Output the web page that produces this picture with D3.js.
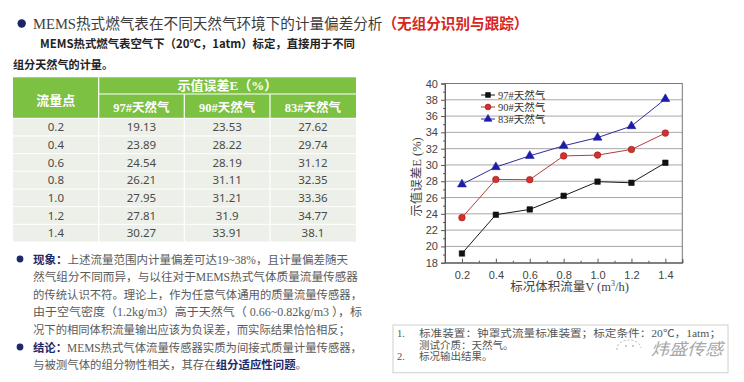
<!DOCTYPE html>
<html><head><meta charset="utf-8">
<script src="https://cdn.jsdelivr.net/npm/d3@7"></script>
<style>body{margin:0;background:#fff}svg{display:block}</style></head>
<body>
<svg id="c" width="744" height="382"></svg>
<script>
// ---------------- data ----------------
const flowPoints = [0.2, 0.4, 0.6, 0.8, 1.0, 1.2, 1.4];
const seriesNames = ["97#天然气", "90#天然气", "83#天然气"];
const gas97 = [19.13, 23.89, 24.54, 26.21, 27.95, 27.81, 30.27];
const gas90 = [23.53, 28.22, 28.19, 31.11, 31.21, 31.9, 33.91];
const gas83 = [27.62, 29.74, 31.12, 32.35, 33.36, 34.77, 38.1];
const yTicks = [18, 20, 22, 24, 26, 28, 30, 32, 34, 36, 38, 40];
const xTicks = [0.2, 0.4, 0.6, 0.8, 1.0, 1.2, 1.4];
const titleMain = "MEMS热式燃气表在不同天然气环境下的计量偏差分析";
const titleRed = "（无组分识别与跟踪）";
const subtitle1 = "MEMS热式燃气表空气下（20℃，1atm）标定，直接用于不同";
const subtitle2 = "组分天然气的计量。";
const tableHead = ["流量点", "示值误差E（%）"];
const yAxisTitle = "示值误差E (%)";
const noteLines = ["标准装置：钟罩式流量标准装置；标定条件：20℃，1atm；", "测试介质：天然气。", "标况输出结果。"];

const svg = d3.select("#c");
const serif = "'Liberation Serif','Noto Sans CJK SC',serif";
const cjk = "'Noto Sans CJK SC','Noto Sans',sans-serif";
const sans = "'Liberation Sans','Noto Sans CJK SC',sans-serif";

// ---------------- title ----------------
svg.append("circle").attr("cx", 21.7).attr("cy", 23.5).attr("r", 4.2).attr("fill", "#1b2466");
const tt = svg.append("text").attr("x", 33).attr("y", 29).attr("font-family", serif).attr("font-size", 14.6).attr("fill", "#3c3c3c");
tt.append("tspan").text(titleMain);
tt.append("tspan").attr("font-family", cjk).attr("font-weight", "bold").attr("fill", "#d7261e").text(titleRed);
svg.append("text").attr("x", 40).attr("y", 47.5).attr("font-family", cjk).attr("font-size", 11.5)
  .attr("font-weight", "bold").attr("fill", "#222").attr("textLength", 315).attr("lengthAdjust", "spacingAndGlyphs").text(subtitle1);
svg.append("text").attr("x", 13).attr("y", 69).attr("font-family", cjk).attr("font-size", 11.5)
  .attr("font-weight", "bold").attr("fill", "#222").attr("textLength", 100).attr("lengthAdjust", "spacingAndGlyphs").text(subtitle2);

// ---------------- table ----------------
const green = "#7cc142";
const colX = [13, 98.7, 184.3, 270, 356];
const tTop = 77.3, tMid = 94, tHead = 118.3, tBot = 242;
const rowY = d3.scaleBand().domain(d3.range(flowPoints.length)).range([tHead, tBot]);
const tg = svg.append("g");
tg.append("rect").attr("x", colX[0]).attr("y", tTop).attr("width", colX[4] - colX[0]).attr("height", tHead - tTop).attr("fill", green);
tg.append("rect").attr("x", colX[0]).attr("y", tHead).attr("width", colX[4] - colX[0]).attr("height", tBot - tHead).attr("fill", "#edf0e9");
tg.append("line").attr("x1", colX[1]).attr("x2", colX[1]).attr("y1", tTop).attr("y2", tBot).attr("stroke", "#fff").attr("stroke-width", 1.2);
[colX[2], colX[3]].forEach(x => tg.append("line").attr("x1", x).attr("x2", x).attr("y1", tMid).attr("y2", tBot).attr("stroke", "#fff").attr("stroke-width", 1.2));
tg.append("line").attr("x1", colX[1]).attr("x2", colX[4]).attr("y1", tMid).attr("y2", tMid).attr("stroke", "#fff").attr("stroke-width", 1.2);
d3.range(flowPoints.length + 1).forEach(i => {
  const y = i < flowPoints.length ? rowY(i) : tBot;
  tg.append("line").attr("x1", colX[0]).attr("x2", colX[4]).attr("y1", y).attr("y2", y).attr("stroke", "#fff").attr("stroke-width", 1);
});
tg.append("text").attr("x", (colX[0] + colX[1]) / 2).attr("y", 104.5).attr("text-anchor", "middle").attr("font-family", cjk)
  .attr("font-size", 13).attr("font-weight", "bold").attr("fill", "#fff").text(tableHead[0]);
tg.append("text").attr("x", (colX[1] + colX[4]) / 2).attr("y", 89.5).attr("text-anchor", "middle").attr("font-family", serif)
  .attr("font-size", 13).attr("font-weight", "bold").attr("fill", "#fff").text(tableHead[1]);
seriesNames.forEach((n, j) => {
  tg.append("text").attr("x", (colX[j + 1] + colX[j + 2]) / 2).attr("y", 111.5).attr("text-anchor", "middle").attr("font-family", serif)
    .attr("font-size", 12.5).attr("font-weight", "bold").attr("fill", "#fff").text(n);
});
const fmt1 = d3.format(".1f");
const tableCols = [flowPoints.map(fmt1), gas97.map(String), gas90.map(String), gas83.map(String)];
tableCols.forEach((col, j) => {
  tg.selectAll(null).data(col).join("text")
    .attr("x", (colX[j] + colX[j + 1]) / 2)
    .attr("y", (d, i) => rowY(i) + rowY.bandwidth() / 2 + 4.2)
    .attr("text-anchor", "middle").attr("font-family", "'Noto Sans','Liberation Sans',sans-serif")
    .attr("font-size", 11.5).attr("fill", "#4a4a4a").text(d => d);
});

// ---------------- paragraph ----------------
const navy = "#1c2a6a";
const paraLines = [
  {y: 263.5, w: 315, parts: [["现象：", true], ["上述流量范围内计量偏差可达19~38%，且计量偏差随天", false]], bullet: true},
  {y: 281, w: 325, parts: [["然气组分不同而异，与以往对于MEMS热式气体质量流量传感器", false]]},
  {y: 298.5, w: 329, parts: [["的传统认识不符。理论上，作为任意气体通用的质量流量传感器，", false]]},
  {y: 316, w: 329, parts: [["由于空气密度（1.2kg/m3）高于天然气（ 0.66~0.82kg/m3 ），标", false]]},
  {y: 333.5, w: 317, parts: [["况下的相同体积流量输出应该为负误差，而实际结果恰恰相反；", false]]},
  {y: 351.5, w: 329, parts: [["结论：", true], ["MEMS热式气体流量传感器实质为间接式质量计量传感器，", false]], bullet: true},
  {y: 368.5, w: 274, parts: [["与被测气体的组分物性相关，其存在", false], ["组分适应性问题", true], ["。", false]]}
];
const pg = svg.append("g");
paraLines.forEach(L => {
  if (L.bullet) pg.append("circle").attr("cx", 20).attr("cy", L.y - 4.5).attr("r", 3.4).attr("fill", navy);
  const t = pg.append("text").attr("x", 33).attr("y", L.y).attr("font-family", serif).attr("font-size", 11.5)
    .attr("fill", "#5a5a5a").attr("textLength", L.w).attr("lengthAdjust", "spacingAndGlyphs");
  L.parts.forEach(p => {
    const s = t.append("tspan").text(p[0]);
    if (p[1]) s.attr("font-weight", "bold").attr("fill", navy).attr("font-family", cjk);
  });
});

// ---------------- chart ----------------
const x = d3.scaleLinear().domain([0.1, 1.5]).range([445, 682.3]);
const y = d3.scaleLinear().domain([18, 40]).range([262.7, 83.5]);
const cg = svg.append("g");
cg.selectAll(null).data(yTicks.filter(v => v > 18 && v < 40)).join("line")
  .attr("x1", x(0.1)).attr("x2", x(1.5)).attr("y1", d => y(d)).attr("y2", d => y(d))
  .attr("stroke", "#a8a8a8").attr("stroke-width", 1);
cg.append("rect").attr("x", x(0.1)).attr("y", y(40)).attr("width", x(1.5) - x(0.1)).attr("height", y(18) - y(40))
  .attr("fill", "none").attr("stroke", "#777").attr("stroke-width", 1);
const yAxis = d3.axisLeft(y).tickValues(yTicks).tickSize(4).tickPadding(3).tickFormat(d3.format("d"));
cg.append("g").attr("transform", `translate(${x(0.1)},0)`).call(yAxis);
const yMinor = d3.range(19, 40, 2);
cg.append("g").attr("transform", `translate(${x(0.1)},0)`).call(d3.axisLeft(y).tickValues(yMinor).tickSize(2).tickFormat(""))
  .call(g => g.select(".domain").remove());
const xAxis = d3.axisBottom(x).tickValues(xTicks).tickSize(-4).tickPadding(9).tickFormat(d3.format(".1f"));
cg.append("g").attr("transform", `translate(0,${y(18)})`).call(xAxis);
const xMinor = [0.1, 0.3, 0.5, 0.7, 0.9, 1.1, 1.3, 1.5];
cg.append("g").attr("transform", `translate(0,${y(18)})`).call(d3.axisBottom(x).tickValues(xMinor).tickSize(-2).tickFormat(""))
  .call(g => g.select(".domain").remove());
cg.selectAll(".domain, .tick line").attr("stroke", "#555");
cg.selectAll(".tick text").attr("font-family", sans).attr("font-size", 11).attr("fill", "#444");

cg.append("text").attr("transform", `translate(421,177) rotate(-90)`).attr("text-anchor", "middle")
  .attr("font-family", serif).attr("font-size", 12.5).attr("fill", "#444").text(yAxisTitle);
const xt = cg.append("text").attr("x", 569.5).attr("y", 291).attr("text-anchor", "middle")
  .attr("font-family", serif).attr("font-size", 12.5).attr("fill", "#444");
xt.append("tspan").text("标况体积流量V (m");
xt.append("tspan").attr("font-size", 8).attr("dy", -5).text("3");
xt.append("tspan").attr("dy", 5).text("/h)");

const series = [
  {name: seriesNames[0], values: gas97, line: "#1a1a1a", fill: "#111", stroke: "#111", shape: d3.symbolSquare, size: 30, ly: 95},
  {name: seriesNames[1], values: gas90, line: "#b83a3a", fill: "#d8302a", stroke: "#8e1d1d", shape: d3.symbolCircle, size: 34, ly: 107},
  {name: seriesNames[2], values: gas83, line: "#2d2d9c", fill: "#1c1ca8", stroke: "#1c1ca8", shape: d3.symbolTriangle, size: 34, ly: 119}
];
const lineGen = d3.line().x((d, i) => x(flowPoints[i])).y(d => y(d));
series.forEach(s => {
  cg.append("path").attr("d", lineGen(s.values)).attr("fill", "none").attr("stroke", s.line).attr("stroke-width", 1);
  cg.selectAll(null).data(s.values).join("path")
    .attr("transform", (d, i) => `translate(${x(flowPoints[i])},${y(d)})`)
    .attr("d", d3.symbol().type(s.shape).size(s.size))
    .attr("fill", s.fill).attr("stroke", s.stroke).attr("stroke-width", 0.6);
  cg.append("line").attr("x1", 481).attr("x2", 495).attr("y1", s.ly).attr("y2", s.ly).attr("stroke", s.line).attr("stroke-width", 1);
  cg.append("path").attr("transform", `translate(488,${s.ly})`).attr("d", d3.symbol().type(s.shape).size(s.size * 0.8))
    .attr("fill", s.fill).attr("stroke", s.stroke).attr("stroke-width", 0.6);
  cg.append("text").attr("x", 498).attr("y", s.ly + 3.8).attr("font-family", serif).attr("font-size", 10.5)
    .attr("fill", "#333").text(s.name);
});

// ---------------- note box ----------------
const ng = svg.append("g");
ng.append("rect").attr("x", 393).attr("y", 325).attr("width", 335).attr("height", 47.7)
  .attr("fill", "#fff").attr("stroke", "#d0d0cc").attr("stroke-width", 1);
ng.append("text").attr("x", 397).attr("y", 337).attr("font-family", serif).attr("font-size", 10.5).attr("fill", "#555").text("1.");
ng.append("text").attr("x", 419).attr("y", 337).attr("font-family", serif).attr("font-size", 10.5).attr("fill", "#555")
  .attr("textLength", 302).attr("lengthAdjust", "spacingAndGlyphs").text(noteLines[0]);
ng.append("text").attr("x", 419).attr("y", 349).attr("font-family", serif).attr("font-size", 10.5).attr("fill", "#555").text(noteLines[1]);
ng.append("text").attr("x", 397).attr("y", 360).attr("font-family", serif).attr("font-size", 10.5).attr("fill", "#555").text("2.");
ng.append("text").attr("x", 419).attr("y", 360).attr("font-family", serif).attr("font-size", 10.5).attr("fill", "#555").text(noteLines[2]);
const wm = svg.append("g").attr("opacity", 0.75);
wm.append("path").attr("d", "M617,350 A12,9 0 1,1 641,348").attr("fill", "none").attr("stroke", "#999").attr("stroke-width", 1).attr("stroke-dasharray", "2,2");
wm.append("circle").attr("cx", 626).attr("cy", 346).attr("r", 0.9).attr("fill", "#999");
wm.append("circle").attr("cx", 633).attr("cy", 346).attr("r", 0.9).attr("fill", "#999");
wm.append("text").attr("x", 651).attr("y", 355).attr("font-family", cjk).attr("font-size", 16.5).attr("font-style", "italic")
  .attr("fill", "#8a8a8a").attr("textLength", 72).attr("lengthAdjust", "spacingAndGlyphs").text("炜盛传感");
</script>
</body></html>
